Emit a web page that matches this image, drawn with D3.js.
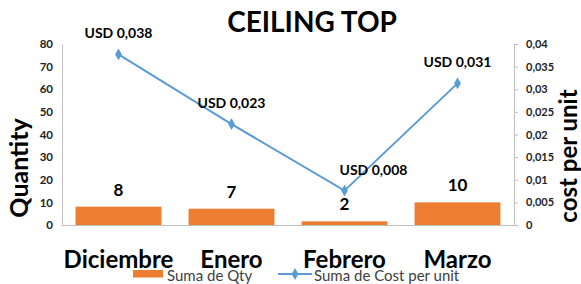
<!DOCTYPE html>
<html><head><meta charset="utf-8">
<script src="https://cdn.jsdelivr.net/npm/d3@7/dist/d3.min.js"></script>
<style>body{margin:0;background:#fff}svg{display:block}text{font-family:Lato,"Open Sans",sans-serif}</style>
</head><body><svg id="c" width="581" height="284"></svg>
<script>
const categories = ["Diciembre","Enero","Febrero","Marzo"];
const qty = [8,7,2,10];
const qtyBarValues = [8.1,7.2,1.6,10];
const costPerUnit = [0.0377,0.0223,0.0076,0.0313];
const costLabels = ["USD 0,038","USD 0,023","USD 0,008","USD 0,031"];
const leftTicks = [0,10,20,30,40,50,60,70,80];
const rightTicks = [0,0.005,0.01,0.015,0.02,0.025,0.03,0.035,0.04];

const svg = d3.select("#c");
const L=62,R=514,T=44,B=225;
const x = d3.scaleBand().domain(categories).range([L,R]).paddingInner(0.24).paddingOuter(0.12);
const yL = d3.scaleLinear().domain([0,80]).range([B,T]);
const yR = d3.scaleLinear().domain([0,0.04]).range([B,T]);
const cx = c => x(c)+x.bandwidth()/2;

// title
svg.append("text").attr("x",312).attr("y",32).attr("text-anchor","middle")
  .attr("font-size",28).attr("font-weight",700).attr("fill","#000").text("CEILING TOP");

// left axis
const gl = svg.append("g").attr("transform",`translate(${L},0)`)
  .call(d3.axisLeft(yL).tickValues(leftTicks).tickSize(0).tickPadding(9).tickFormat(d3.format("d")));
gl.select(".domain").attr("stroke","#bfbfbf");
gl.selectAll("text").attr("font-size",11.5).attr("font-weight",700).attr("fill","#222").style("font-family","Lato");

// right axis
const fmtR = d => d===0?"0":String(d).replace(".",",");
const gr = svg.append("g").attr("transform",`translate(${R},0)`)
  .call(d3.axisRight(yR).tickValues(rightTicks).tickSize(4).tickSizeOuter(0).tickPadding(8).tickFormat(fmtR));
gr.select(".domain").attr("stroke","#bfbfbf");
gr.selectAll(".tick line").attr("stroke","#bfbfbf");
gr.selectAll("text").attr("font-size",11).attr("font-weight",700).attr("fill","#222").style("font-family","Lato");

// baseline
svg.append("line").attr("x1",L).attr("x2",R).attr("y1",B+0.5).attr("y2",B+0.5).attr("stroke","#bfbfbf");

// bars
svg.selectAll("rect.bar").data(categories).join("rect").attr("class","bar")
  .attr("x",d=>x(d)).attr("width",x.bandwidth())
  .attr("y",(d,i)=>yL(qtyBarValues[i])).attr("height",(d,i)=>B-yL(qtyBarValues[i]))
  .attr("fill","#ed7d31");
svg.selectAll("text.bl").data(categories).join("text").attr("class","bl")
  .attr("x",d=>cx(d)).attr("y",(d,i)=>yL(qtyBarValues[i])-11).attr("text-anchor","middle")
  .attr("font-size",17).attr("font-weight",700).attr("fill","#000").text((d,i)=>qty[i]);

// line
const line = d3.line().x((d,i)=>cx(categories[i])).y(d=>yR(d));
svg.append("path").datum(costPerUnit).attr("d",line).attr("fill","none").attr("stroke","#5b9bd5").attr("stroke-width",2);
const diamond = d3.symbol().type(d3.symbolDiamond).size(40);
svg.selectAll("path.pt").data(costPerUnit).join("path").attr("class","pt")
  .attr("transform",(d,i)=>`translate(${cx(categories[i])},${yR(d)})`).attr("d",diamond).attr("fill","#5b9bd5");
const labelShift = [0,0,29,0];
svg.selectAll("text.ll").data(costPerUnit).join("text").attr("class","ll")
  .attr("x",(d,i)=>cx(categories[i])+labelShift[i]).attr("y",d=>yR(d)-16).attr("text-anchor","middle")
  .attr("font-size",14).attr("font-weight",700).attr("fill","#000").text((d,i)=>costLabels[i]);

// category labels
svg.selectAll("text.cat").data(categories).join("text").attr("class","cat")
  .attr("x",d=>cx(d)).attr("y",268).attr("text-anchor","middle")
  .attr("font-size",24).attr("font-weight",700).attr("fill","#000").text(d=>d);

// axis titles
svg.append("text").attr("transform","translate(28,168) rotate(-90)").attr("text-anchor","middle")
  .attr("font-size",25).attr("font-weight",700).attr("fill","#000").text("Quantity");
svg.append("text").attr("transform","translate(577,156) rotate(-90)").attr("text-anchor","middle")
  .attr("font-size",24).attr("font-weight",700).attr("fill","#000").text("cost per unit");

// legend
const lg = svg.append("g");
lg.append("rect").attr("x",133).attr("y",270).attr("width",30).attr("height",7.5).attr("fill","#ed7d31");
lg.append("text").attr("x",167).attr("y",281).attr("font-size",15).attr("fill","#404040").text("Suma de Qty");
lg.append("line").attr("x1",278).attr("x2",312).attr("y1",274).attr("y2",274).attr("stroke","#5b9bd5").attr("stroke-width",2);
lg.append("path").attr("transform","translate(295,274)").attr("d",diamond).attr("fill","#5b9bd5");
lg.append("text").attr("x",314).attr("y",281).attr("font-size",15).attr("fill","#404040").text("Suma de Cost per unit");
</script></body></html>
